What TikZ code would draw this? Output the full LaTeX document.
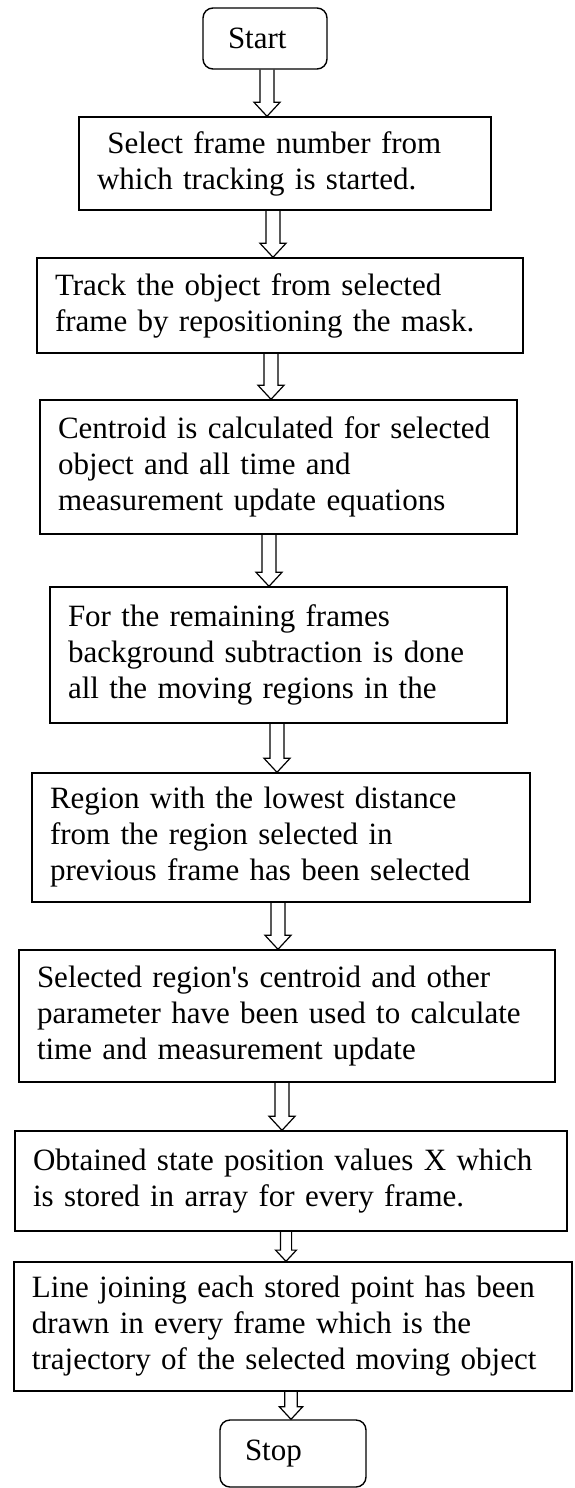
\documentclass[tikz,border=0pt]{standalone}
\usepackage{fontspec}
\setmainfont{Liberation Serif}
\usepackage{tikz}
\usetikzlibrary{calc}

% hollow block arrow: from box #2 down to box #3 at x=#4 (px), #1 = size
\newcommand{\flowarrow}[4][1]{%
  \draw[hollow] let \p1=(#2.south), \p2=(#3.north) in
    ({#4*0.5pt-3.5pt*#1},\y1) -- ({#4*0.5pt-3.5pt*#1},{\y2+7pt*#1})
    -- ({#4*0.5pt-6.5pt*#1},{\y2+7pt*#1}) -- ({#4*0.5pt},\y2)
    -- ({#4*0.5pt+6.5pt*#1},{\y2+7pt*#1}) -- ({#4*0.5pt+3.5pt*#1},{\y2+7pt*#1})
    -- ({#4*0.5pt+3.5pt*#1},\y1);}

\begin{document}
\begin{tikzpicture}[x=0.5pt,y=-0.5pt,
    stepbox/.style={draw,line width=0.7pt,align=left,inner xsep=9pt,
                    font=\fontsize{15.5pt}{18pt}\selectfont},
    term/.style={stepbox,rounded corners=5pt,inner xsep=12.5pt},
    hollow/.style={line width=0.6pt,line join=miter},
]
\useasboundingbox (0,0) rectangle (574,1488);

% Start
\node[term,text width=37pt,minimum height=30.5pt] (start) at (265,38.5) {Start};

% Frame selection and tracking
\node[stepbox,text width=188pt,minimum height=46.5pt] (select) at (285,163.5)
  {~Select frame number from\\which tracking is started.};
\node[stepbox,text width=225pt,minimum height=47.5pt] (track) at (280,305.5)
  {Track the object from selected\\frame by repositioning the mask.};

% Centroid and background subtraction
\node[stepbox,text width=220.5pt,minimum height=67pt] (centroid) at (278.5,467)
  {Centroid is calculated for selected\\object and all time and\\measurement update equations};
\node[stepbox,text width=210.5pt,minimum height=68pt] (remain) at (278.5,655)
  {For the remaining frames\\background subtraction is done\\all the moving regions in the};

% Nearest region and update
\node[stepbox,text width=231pt,minimum height=64.5pt] (nearest) at (281,837.5)
  {Region with the lowest distance\\from the region selected in\\previous frame has been selected};
\node[stepbox,text width=250pt,minimum height=66pt] (update) at (287,1016)
  {Selected region{\textquotesingle}s centroid and other\\parameter have been used to calculate\\time and measurement update};

% Storing and trajectory
\node[stepbox,text width=258pt,minimum height=50pt] (store) at (291,1181)
  {Obtained state position values X which\\is stored in array for every frame.};
\node[stepbox,text width=261pt,minimum height=64.5pt] (traj) at (293,1326.5)
  {Line joining each stored point has been\\drawn in every frame which is the\\trajectory of the selected moving object};

% Stop
\node[term,text width=48pt,minimum height=33.5pt] (stop) at (293,1453.5) {Stop};

% Arrows
\flowarrow{start}{select}{267}
\flowarrow{select}{track}{273}
\flowarrow{track}{centroid}{271}
\flowarrow{centroid}{remain}{269}
\flowarrow{remain}{nearest}{277}
\flowarrow{nearest}{update}{278}
\flowarrow{update}{store}{282}
\flowarrow[0.8]{store}{traj}{286}
\flowarrow[0.9]{traj}{stop}{291}

\end{tikzpicture}
\end{document}
